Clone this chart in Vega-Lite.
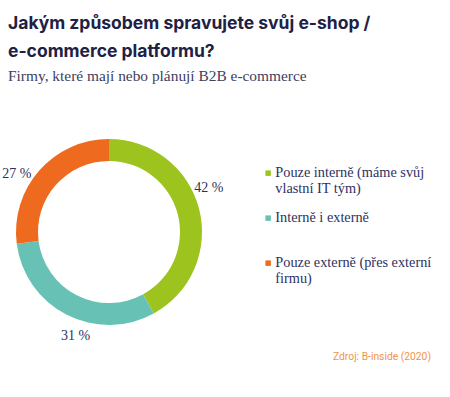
{
  "$schema": "https://vega.github.io/schema/vega-lite/v6.json",
  "width": 186,
  "height": 186,
  "autosize": {"type": "none"},
  "padding": {"left": 16, "top": 139, "right": 248, "bottom": 72},
  "background": "white",
  "title": {
    "text": ["Jakým způsobem spravujete svůj e-shop /", "e-commerce platformu?"],
    "subtitle": "Firmy, které mají nebo plánují B2B e-commerce",
    "anchor": "start",
    "frame": "group",
    "dx": -8,
    "offset": 55,
    "font": "Inter",
    "fontSize": 17.5,
    "fontWeight": 700,
    "lineHeight": 28,
    "color": "#1d2144",
    "subtitleFont": "Liberation Serif",
    "subtitleFontSize": 15.4,
    "subtitleColor": "#3d4060",
    "subtitlePadding": 8
  },
  "data": {
    "values": [
      {"kategorie": "Pouze interně (máme svůj vlastní IT tým)", "podil": 42, "poradi": 1},
      {"kategorie": "Interně i externě", "podil": 31, "poradi": 2},
      {"kategorie": "Pouze externě (přes externí firmu)", "podil": 27, "poradi": 3}
    ]
  },
  "transform": [{"calculate": "datum.podil + ' %'", "as": "popisek"}],
  "layer": [
    {
      "mark": {"type": "arc", "outerRadius": 93, "innerRadius": 71},
      "encoding": {
        "theta": {"field": "podil", "type": "quantitative", "stack": true},
        "order": {"field": "poradi", "type": "quantitative"},
        "color": {
          "field": "kategorie",
          "type": "nominal",
          "sort": ["Pouze interně (máme svůj vlastní IT tým)", "Interně i externě", "Pouze externě (přes externí firmu)"],
          "scale": {
            "domain": ["Pouze interně (máme svůj vlastní IT tým)", "Interně i externě", "Pouze externě (přes externí firmu)"],
            "range": ["#9dc41e", "#67c2b5", "#ee6a1f"]
          },
          "legend": {
            "orient": "none",
            "legendX": 245,
            "legendY": 27,
            "padding": 0,
            "title": "Zdroj: B-inside (2020)",
            "titleOrient": "bottom",
            "titleAnchor": "end",
            "titleFont": "Roboto",
            "titleFontSize": 10.3,
            "titleFontWeight": "normal",
            "titleColor": "#f1934a",
            "titlePadding": 66,
            "symbolType": "square",
            "symbolSize": 30,
            "symbolStrokeWidth": 0,
            "labelFont": "Liberation Serif",
            "labelFontSize": 14.3,
            "labelColor": "#2e3160",
            "labelOffset": 0,
            "labelLimit": 0,
            "gridAlign": "all",
            "rowPadding": 14,
            "labelExpr": "datum.label == 'Pouze interně (máme svůj vlastní IT tým)' ? ['Pouze interně (máme svůj', 'vlastní IT tým)'] : datum.label == 'Pouze externě (přes externí firmu)' ? ['Pouze externě (přes externí', 'firmu)'] : datum.label",
            "encode": {"labels": {"update": {"lineHeight": {"value": 16}}}}
          }
        }
      }
    },
    {
      "mark": {
        "type": "text",
        "radius": 109,
        "font": "Liberation Serif",
        "fontSize": 14,
        "color": "#2e3160"
      },
      "encoding": {
        "theta": {"field": "podil", "type": "quantitative", "stack": true, "scale": {"range": [-0.16, 6.1232]}},
        "order": {"field": "poradi", "type": "quantitative"},
        "text": {"field": "popisek", "type": "nominal"}
      }
    }
  ],
  "resolve": {"scale": {"theta": "independent"}},
  "config": {"view": {"stroke": null}}
}
